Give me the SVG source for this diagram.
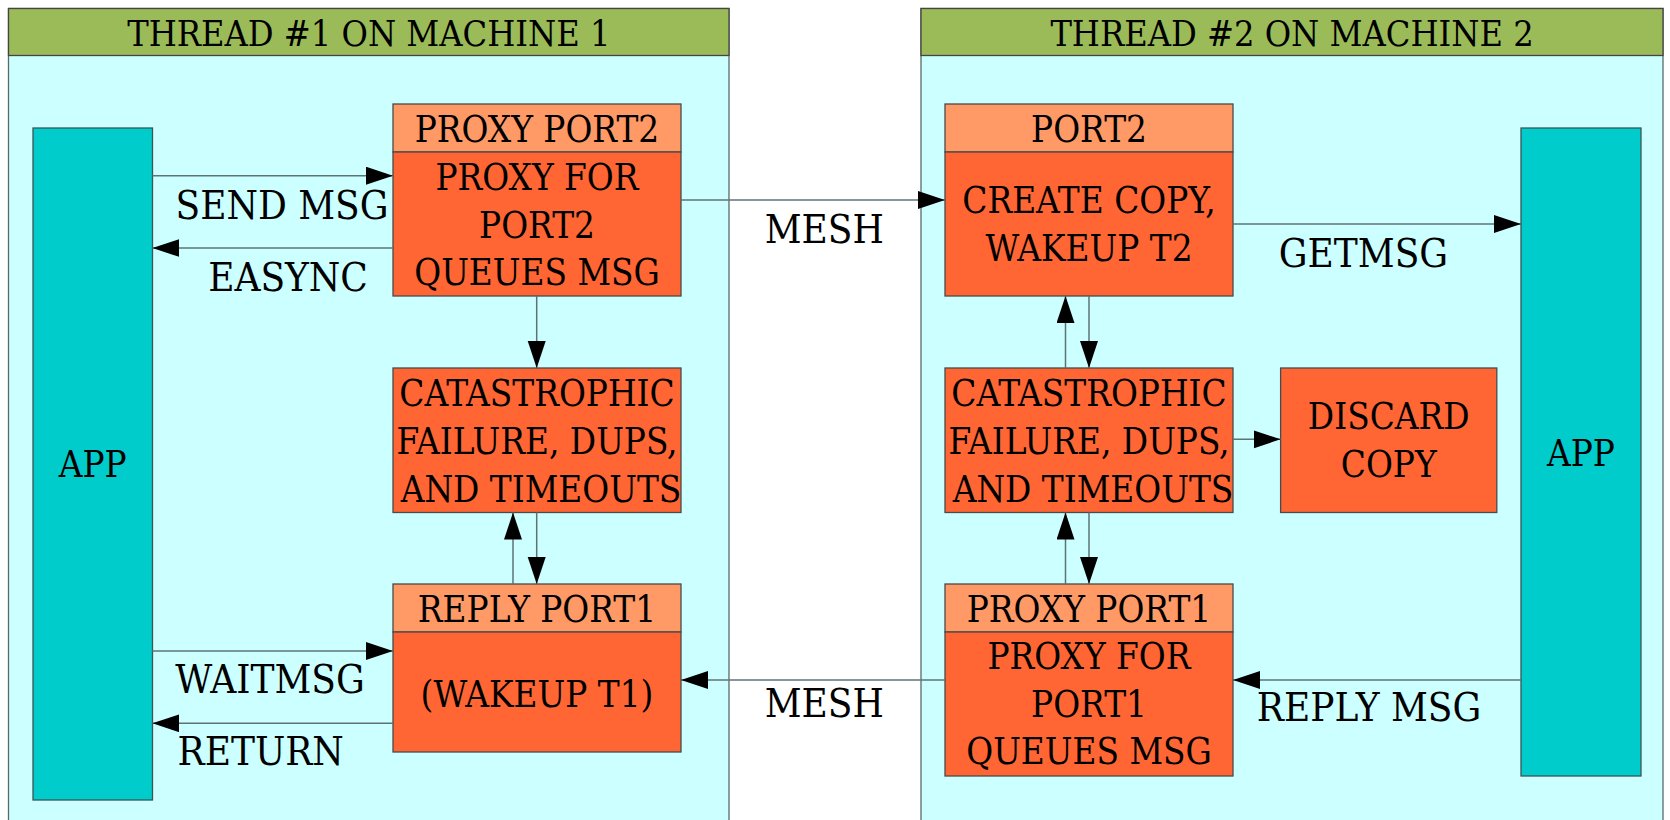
<svg xmlns="http://www.w3.org/2000/svg" width="1670" height="820" viewBox="0 0 1670 820">
<defs>
<marker id="ah" markerUnits="userSpaceOnUse" markerWidth="28" markerHeight="20" refX="27" refY="9" orient="auto">
<path d="M0,0 L27,9 L0,18 z" fill="#000"/>
</marker>
<style>
text{font-family:"DejaVu Serif Condensed","DejaVu Serif",serif;font-stretch:condensed;text-anchor:middle;fill:#000}
.t{font-size:36.5px}
.h{font-size:35.8px}
.lbl{font-size:40px}
.cl{fill:#ccffff;stroke:#5a6a6a;stroke-width:1.3}
.hd{fill:#9bbb59;stroke:#444;stroke-width:1.3}
.app{fill:#00cccc;stroke:#3d5555;stroke-width:1.3}
.bd{fill:#ff6633;stroke:#4a4a4a;stroke-width:1.3}
.ph{fill:#ff9966;stroke:#4a4a4a;stroke-width:1.3}
.e{stroke:#5f7373;stroke-width:1.5;fill:none;marker-end:url(#ah)}
</style>
</defs>
<rect width="1670" height="820" fill="#fff"/>
<g id="cluster1">
<rect class="cl" x="8.5" y="8.5" width="720.5" height="830"/>
<rect class="hd" x="8.5" y="8.5" width="720.5" height="47"/>
<text class="h" x="368.8" y="45.7">THREAD #1 ON MACHINE 1</text>
</g>
<g id="cluster2">
<rect class="cl" x="921" y="8.5" width="742" height="830"/>
<rect class="hd" x="921" y="8.5" width="742" height="47"/>
<text class="h" x="1292" y="45.7">THREAD #2 ON MACHINE 2</text>
</g>
<g id="app1">
<rect class="app" x="33" y="128" width="119.5" height="672"/>
<text class="t" x="92.7" y="476.7">APP</text>
</g>
<g id="app2">
<rect class="app" x="1521" y="128" width="120" height="648"/>
<text class="t" x="1581" y="465.7">APP</text>
</g>
<g id="proxyport2">
<rect class="ph" x="393" y="104" width="288" height="48"/>
<rect class="bd" x="393" y="152" width="288" height="144"/>
<text class="t" x="537" y="141.7">PROXY PORT2</text>
<text class="t" x="537" y="190">PROXY FOR</text>
<text class="t" x="537" y="237.5">PORT2</text>
<text class="t" x="537" y="285">QUEUES MSG</text>
</g>
<g id="cata1">
<rect class="bd" x="393" y="368" width="288" height="144.5"/>
<text class="t" x="537" y="405.7">CATASTROPHIC</text>
<text class="t" x="537" y="454">FAILURE, DUPS,</text>
<text class="t" x="541" y="501.7">AND TIMEOUTS</text>
</g>
<g id="replyport1">
<rect class="ph" x="393" y="584" width="288" height="48"/>
<rect class="bd" x="393" y="632" width="288" height="120"/>
<text class="t" x="537" y="621.7">REPLY PORT1</text>
<text class="t" x="537" y="706.7">(WAKEUP T1)</text>
</g>
<g id="port2">
<rect class="ph" x="945" y="104" width="288" height="48"/>
<rect class="bd" x="945" y="152" width="288" height="144"/>
<text class="t" x="1089" y="141.7">PORT2</text>
<text class="t" x="1089" y="213.3">CREATE COPY,</text>
<text class="t" x="1089" y="260.7">WAKEUP T2</text>
</g>
<g id="cata2">
<rect class="bd" x="945" y="368" width="288" height="144.5"/>
<text class="t" x="1089" y="405.7">CATASTROPHIC</text>
<text class="t" x="1089" y="454">FAILURE, DUPS,</text>
<text class="t" x="1093" y="501.7">AND TIMEOUTS</text>
</g>
<g id="discard">
<rect class="bd" x="1280.6" y="368" width="216.2" height="144.5"/>
<text class="t" x="1388.7" y="429.3">DISCARD</text>
<text class="t" x="1388.7" y="476.7">COPY</text>
</g>
<g id="proxyport1">
<rect class="ph" x="945" y="584" width="288" height="48"/>
<rect class="bd" x="945" y="632" width="288" height="144"/>
<text class="t" x="1089" y="621.7">PROXY PORT1</text>
<text class="t" x="1089" y="669">PROXY FOR</text>
<text class="t" x="1089" y="717.3">PORT1</text>
<text class="t" x="1089" y="764.3">QUEUES MSG</text>
</g>
<g id="connectors">
<line class="e" x1="152.4" y1="175.7" x2="393" y2="175.7"/>
<line class="e" x1="393" y1="248" x2="152.4" y2="248"/>
<line class="e" x1="681" y1="200" x2="945" y2="200"/>
<line class="e" x1="1233" y1="224" x2="1521" y2="224"/>
<line class="e" x1="536.7" y1="296" x2="536.7" y2="368"/>
<line class="e" x1="513" y1="584" x2="513" y2="512.5"/>
<line class="e" x1="536.7" y1="512.5" x2="536.7" y2="584"/>
<line class="e" x1="152.4" y1="651" x2="393" y2="651"/>
<line class="e" x1="393" y1="723.3" x2="152.4" y2="723.3"/>
<line class="e" x1="945" y1="680" x2="681" y2="680"/>
<line class="e" x1="1521" y1="680" x2="1233" y2="680"/>
<line class="e" x1="1065.5" y1="368" x2="1065.5" y2="296"/>
<line class="e" x1="1089" y1="296" x2="1089" y2="368"/>
<line class="e" x1="1233" y1="439.3" x2="1280.6" y2="439.3"/>
<line class="e" x1="1065.5" y1="584" x2="1065.5" y2="512.5"/>
<line class="e" x1="1089" y1="512.5" x2="1089" y2="584"/>
<text class="lbl" x="282" y="219">SEND MSG</text>
<text class="lbl" x="288" y="290.7">EASYNC</text>
<text class="lbl" x="824.3" y="243.3">MESH</text>
<text class="lbl" x="1363.4" y="266.7">GETMSG</text>
<text class="lbl" x="270" y="693.3">WAITMSG</text>
<text class="lbl" x="260.7" y="765">RETURN</text>
<text class="lbl" x="824.3" y="716.7">MESH</text>
<text class="lbl" x="1369" y="721">REPLY MSG</text>
</g>
</svg>
